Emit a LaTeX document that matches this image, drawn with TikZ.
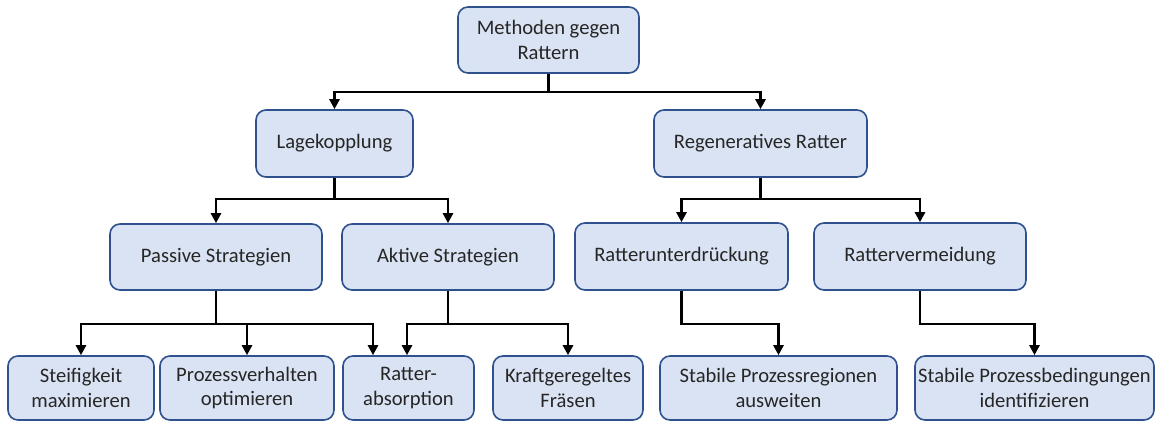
\documentclass[tikz,border=0pt]{standalone}
\usepackage{fontspec}
\setmainfont{Carlito}
\usepackage{xcolor}
\usepackage{tikz}
\usetikzlibrary{arrows.meta}
\definecolor{RTFill}{HTML}{DAE3F3}
\definecolor{RTEdge}{HTML}{2F528F}
\definecolor{RTText}{HTML}{262626}

\begin{document}
\begin{tikzpicture}[
  x=1pt,
  y=-1pt,
  box/.style={
    rectangle,
    rounded corners=10pt,
    draw=RTEdge,
    line width=1.6pt,
    fill=RTFill,
    text=RTText,
    align=center,
    inner sep=2pt,
    font=\fontsize{20.6}{24.5}\selectfont
  },
  branch/.style={line width=2.6pt, black, -{Triangle[length=10pt,width=10pt]}},
]
\useasboundingbox (0,0) rectangle (1159,421);

\node[box,minimum width=181pt,minimum height=66pt] (methods) at (548.5,40) {Methoden gegen\\Rattern};

\node[box,minimum width=157pt,minimum height=67pt] (lage) at (334.5,143.5) {Lagekopplung};
\node[box,minimum width=213pt,minimum height=67pt] (regen) at (760.5,143.5) {Regeneratives Ratter};

\node[box,minimum width=212pt,minimum height=66pt] (passive) at (216,257) {Passive Strategien};
\node[box,minimum width=212pt,minimum height=66pt] (active) at (448,257) {Aktive Strategien};
\node[box,minimum width=213pt,minimum height=67pt] (suppress) at (681.5,256.5) {Ratterunterdrückung};
\node[box,minimum width=212pt,minimum height=67pt] (avoid) at (920,256.5) {Rattervermeidung};

\node[box,minimum width=146pt,minimum height=64pt] (stiff) at (81,388) {Steifigkeit\\maximieren};
\node[box,minimum width=174pt,minimum height=64pt] (process) at (247,388) {Prozessverhalten\\optimieren};
\node[box,minimum width=131pt,minimum height=64pt] (absorb) at (408.5,388) {Ratter-\\absorption};
\node[box,minimum width=150pt,minimum height=64pt] (force) at (568,388) {Kraftgeregeltes\\Fräsen};
\node[box,minimum width=237pt,minimum height=64pt] (regions) at (778.5,388) {Stabile Prozessregionen\\ausweiten};
\node[box,minimum width=239pt,minimum height=64pt] (conditions) at (1034.5,388) {Stabile Prozessbedingungen\\identifizieren};

% top level
\draw[branch] (methods.south) -- ++(0,18) -| (lage.north);
\draw[branch] (methods.south) -- ++(0,18) -| (regen.north);

% Lagekopplung
\draw[branch] (lage.south) -- ++(0,21) -| (passive.north);
\draw[branch] (lage.south) -- ++(0,21) -| (active.north);

% Regeneratives Ratter
\draw[branch] (regen.south) -- ++(0,21) -| (suppress.north);
\draw[branch] (regen.south) -- ++(0,21) -| (avoid.north);

% Strategien
\draw[branch] (passive.south) -- ++(0,33) -| (stiff.north);
\draw[branch] (passive.south) -- ++(0,33) -| (process.north);
\draw[branch] (passive.south) -- ++(0,33) -| ([xshift=-35.5pt]absorb.north);
\draw[branch] (active.south) -- ++(0,33) -| ([xshift=-1.5pt]absorb.north);
\draw[branch] (active.south) -- ++(0,33) -| (force.north);

% Unterdrueckung / Vermeidung
\draw[branch] (suppress.south) -- ++(0,33) -| (regions.north);
\draw[branch] (avoid.south) -- ++(0,33) -| (conditions.north);
\end{tikzpicture}
\end{document}
